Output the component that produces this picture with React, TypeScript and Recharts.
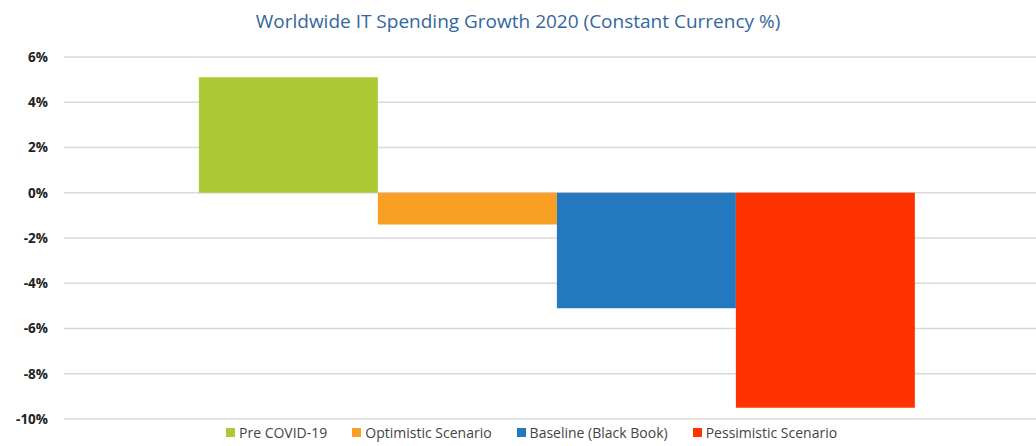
import { BarChart, Bar, XAxis, YAxis, CartesianGrid } from "recharts"

const categories = ["2020"]
const seriesNames = ["Pre COVID-19", "Optimistic Scenario", "Baseline (Black Book)", "Pessimistic Scenario"]
const seriesValues = [5.1, -1.4, -5.1, -9.5]
const seriesColors = ["#adc935", "#f89f24", "#2479be", "#ff3300"]
const yTicks = [-10, -8, -6, -4, -2, 0, 2, 4, 6]

const data = categories.map((name) => {
  const row: Record<string, number | string> = { name }
  seriesNames.forEach((s, i) => {
    row[s] = seriesValues[i]
  })
  return row
})

export default function App() {
  return (
    <div style={{ position: "absolute", left: 0, top: 0, width: 1036, height: 446, background: "#fff", fontFamily: "'Open Sans', sans-serif" }}>
      <div
        style={{
          position: "absolute",
          top: 8,
          left: 0,
          width: 1036,
          textAlign: "center",
          fontSize: 19,
          color: "#3366a0",
        }}
      >
        Worldwide IT Spending Growth 2020 (Constant Currency %)
      </div>
      <BarChart
        width={1036}
        height={446}
        data={data}
        margin={{ top: 57, right: 0, bottom: 27, left: 0 }}
        barCategoryGap="12.8%"
        barGap={0}
      >
        <CartesianGrid vertical={false} stroke="#d9d9d9" strokeWidth={1.5} />
        <XAxis dataKey="name" hide padding={{ left: 12, right: 0 }} />
        <YAxis
          width={64}
          domain={[-10, 6]}
          ticks={yTicks}
          interval={0}
          tickFormatter={(v) => `${v}%`}
          axisLine={false}
          tickLine={false}
          tickSize={8}
          tickMargin={8}
          tick={{ fill: "#222", fontSize: 13.5, fontWeight: 700, fontFamily: "'Open Sans', sans-serif" }}
        />
        {seriesNames.map((s, i) => (
          <Bar key={s} dataKey={s} fill={seriesColors[i]} isAnimationActive={false} />
        ))}
      </BarChart>
      <div
        style={{
          position: "absolute",
          top: 423,
          left: 226,
          display: "flex",
          alignItems: "center",
          fontSize: 14,
          color: "#444",
          whiteSpace: "nowrap",
        }}
      >
        {seriesNames.map((s, i) => (
          <div key={s} style={{ display: "flex", alignItems: "center", marginRight: 25 }}>
            <span style={{ display: "inline-block", width: 9, height: 9, background: seriesColors[i], marginRight: 4 }} />
            <span>{s}</span>
          </div>
        ))}
      </div>
    </div>
  )
}
